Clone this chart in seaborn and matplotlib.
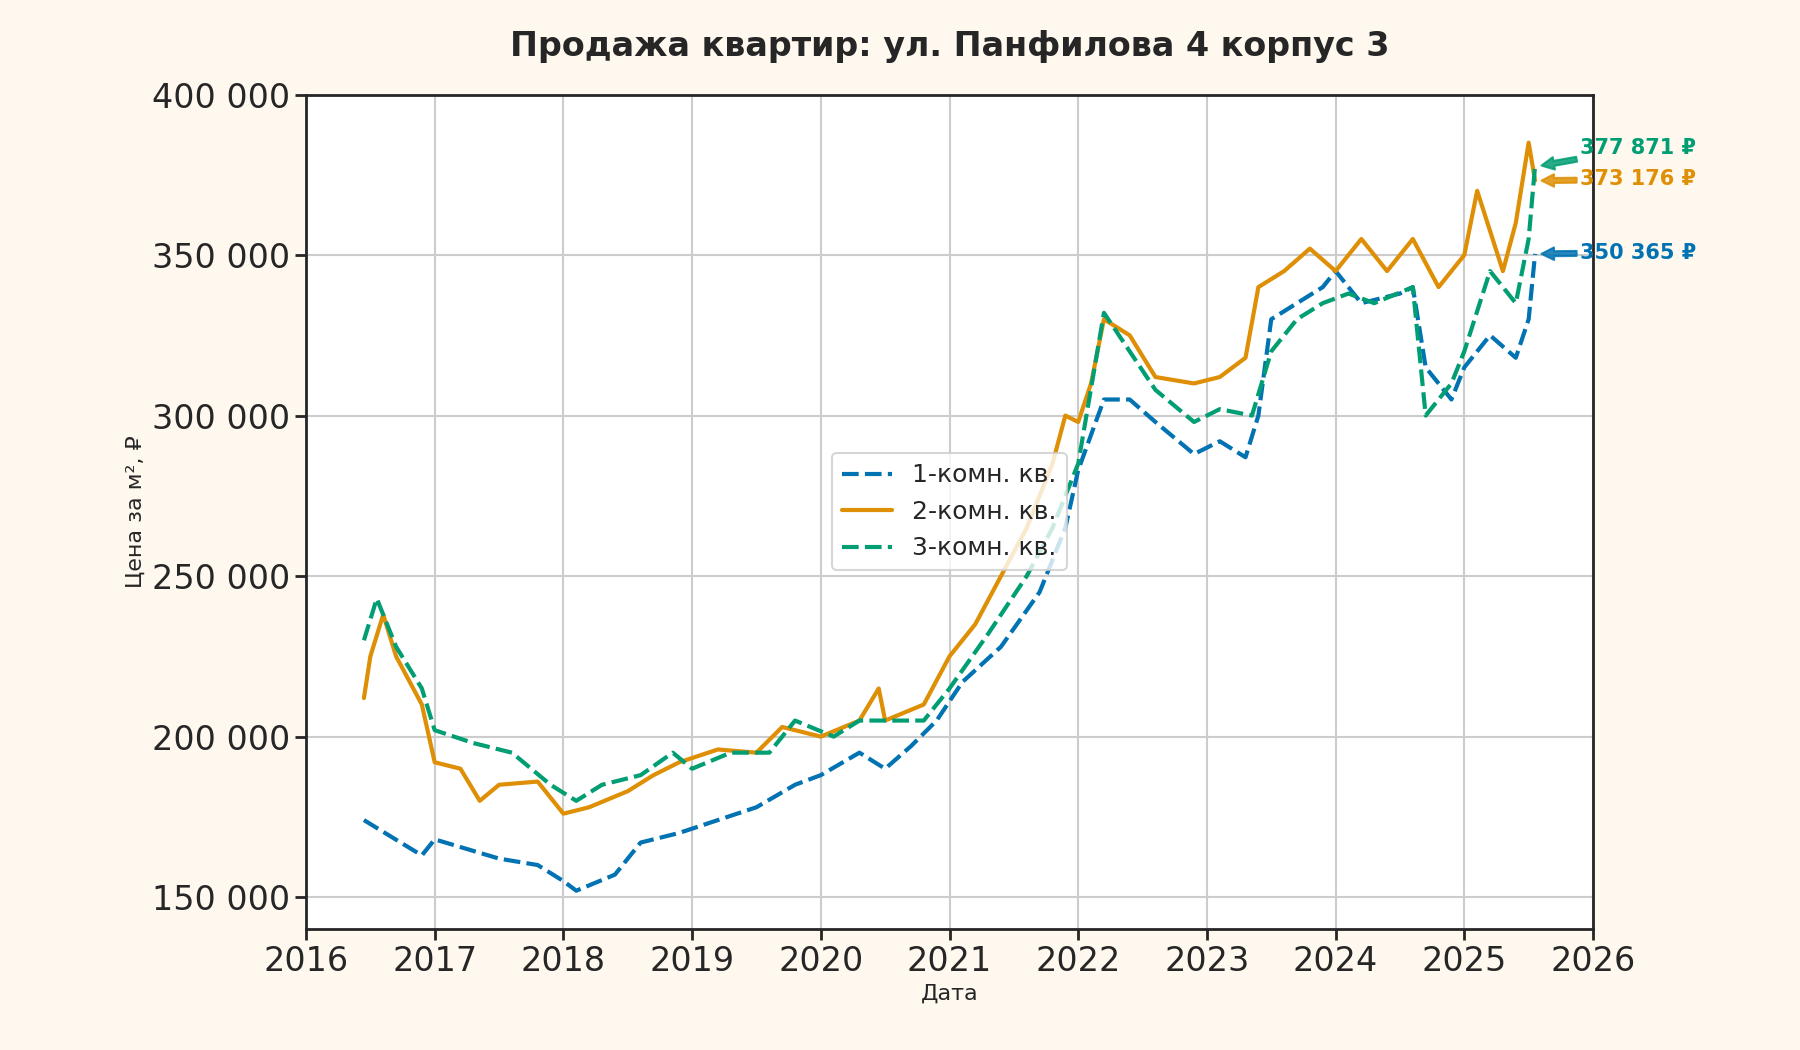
import numpy as np
import pandas as pd
import matplotlib
matplotlib.use("Agg")
import matplotlib.pyplot as plt
import matplotlib.ticker as mticker
import seaborn as sns

# годы (дробные) и цены за м² по типам квартир
t1 = [2016.45, 2016.9, 2017.0, 2017.5, 2017.8, 2018.0, 2018.1, 2018.4, 2018.6, 2018.9, 2019.2, 2019.5,
      2019.8, 2020.0, 2020.3, 2020.5, 2020.7, 2020.9, 2021.1, 2021.4, 2021.7, 2021.9, 2022.0, 2022.2,
      2022.4, 2022.6, 2022.9, 2023.1, 2023.3, 2023.4, 2023.5, 2023.7, 2023.9, 2024.0, 2024.2, 2024.5,
      2024.6, 2024.7, 2024.9, 2025.0, 2025.2, 2025.4, 2025.5, 2025.55]
p1 = [174, 163, 168, 162, 160, 155, 152, 157, 167, 170, 174, 178,
      185, 188, 195, 190, 197, 205, 217, 228, 245, 265, 283, 305,
      305, 298, 288, 292, 287, 300, 330, 335, 340, 345, 335, 338,
      340, 315, 305, 315, 325, 318, 330, 350.365]

t2 = [2016.45, 2016.5, 2016.6, 2016.7, 2016.9, 2017.0, 2017.2, 2017.35, 2017.5, 2017.8, 2018.0, 2018.2,
      2018.5, 2018.7, 2018.9, 2019.2, 2019.5, 2019.7, 2020.0, 2020.3, 2020.45, 2020.5, 2020.8, 2021.0,
      2021.2, 2021.4, 2021.6, 2021.8, 2021.9, 2022.0, 2022.1, 2022.2, 2022.4, 2022.6, 2022.9, 2023.1,
      2023.3, 2023.4, 2023.6, 2023.8, 2024.0, 2024.2, 2024.4, 2024.6, 2024.8, 2025.0, 2025.1, 2025.3,
      2025.4, 2025.5, 2025.55]
p2 = [212, 225, 238, 225, 210, 192, 190, 180, 185, 186, 176, 178,
      183, 188, 192, 196, 195, 203, 200, 205, 215, 205, 210, 225,
      235, 250, 265, 285, 300, 298, 310, 330, 325, 312, 310, 312,
      318, 340, 345, 352, 345, 355, 345, 355, 340, 350, 370, 345,
      360, 385, 373.176]

t3 = [2016.45, 2016.55, 2016.7, 2016.9, 2017.0, 2017.3, 2017.6, 2017.9, 2018.1, 2018.3, 2018.6, 2018.85,
      2019.0, 2019.3, 2019.6, 2019.8, 2020.1, 2020.3, 2020.5, 2020.8, 2021.0, 2021.3, 2021.6, 2021.8,
      2022.0, 2022.2, 2022.4, 2022.6, 2022.9, 2023.1, 2023.35, 2023.5, 2023.7, 2023.9, 2024.1, 2024.3,
      2024.6, 2024.7, 2024.9, 2025.0, 2025.2, 2025.4, 2025.5, 2025.55]
p3 = [230, 243, 228, 215, 202, 198, 195, 185, 180, 185, 188, 195,
      190, 195, 195, 205, 200, 205, 205, 205, 215, 232, 250, 265,
      285, 332, 320, 308, 298, 302, 300, 320, 330, 335, 338, 335,
      340, 300, 310, 320, 345, 335, 355, 377.871]

names = ["1-комн. кв.", "2-комн. кв.", "3-комн. кв."]
last_labels = ["350 365 ₽", "373 176 ₽", "377 871 ₽"]

df = pd.concat([
    pd.DataFrame({"t": t, "p": np.array(p) * 1000, "kind": n})
    for t, p, n in zip([t1, t2, t3], [p1, p2, p3], names)
])

sns.set_theme(style="ticks", context="talk")
plt.rcParams["font.family"] = ["DejaVu Sans"]
pal = sns.color_palette("colorblind")
colors = [pal[0], pal[1], pal[2]]

fig, ax = plt.subplots(figsize=(18, 10.5), dpi=100)
fig.patch.set_facecolor("#fff8ee")
sns.lineplot(data=df, x="t", y="p", hue="kind", style="kind", palette=colors,
             dashes=[(4, 1.5), "", (4, 1.5)], linewidth=3, ax=ax)
ax.grid(True, color="#cccccc")
ax.set_xlim(2016, 2026)
ax.set_ylim(140000, 400000)
ax.set_xticks(range(2016, 2027))
ax.set_yticks(range(150000, 400001, 50000))
ax.yaxis.set_major_formatter(mticker.FuncFormatter(lambda v, _: f"{int(v):,}".replace(",", " ")))
ax.tick_params(labelsize=24, length=8, width=2)
for s in ax.spines.values():
    s.set_linewidth(2)
ax.set_xlabel("Дата", fontsize=16)
ax.set_ylabel("Цена за м², ₽", fontsize=16)
ax.set_title("Продажа квартир: ул. Панфилова 4 корпус 3", fontsize=24, fontweight="bold", pad=28)
leg = ax.legend(title=None, loc="center", bbox_to_anchor=(0.5, 0.5), fontsize=18)
for line in leg.get_lines():
    line.set_linewidth(3)

for t, p, lab, c, dy in zip([t1, t2, t3], [p1, p2, p3], last_labels, colors, [-1500, -1500, 3500]):
    y = p[-1] * 1000
    ax.annotate(lab, xy=(t[-1] + 0.05, y), xytext=(t[-1] + 0.35, y + dy),
                color=c, fontsize=15, fontweight="bold", annotation_clip=False,
                arrowprops=dict(arrowstyle="simple", color=c, alpha=0.85, mutation_scale=18,
                                shrinkA=0, shrinkB=0))

plt.subplots_adjust(left=0.17, right=0.885, top=0.91, bottom=0.115)
plt.savefig("out.png", dpi=100, facecolor=fig.get_facecolor())
